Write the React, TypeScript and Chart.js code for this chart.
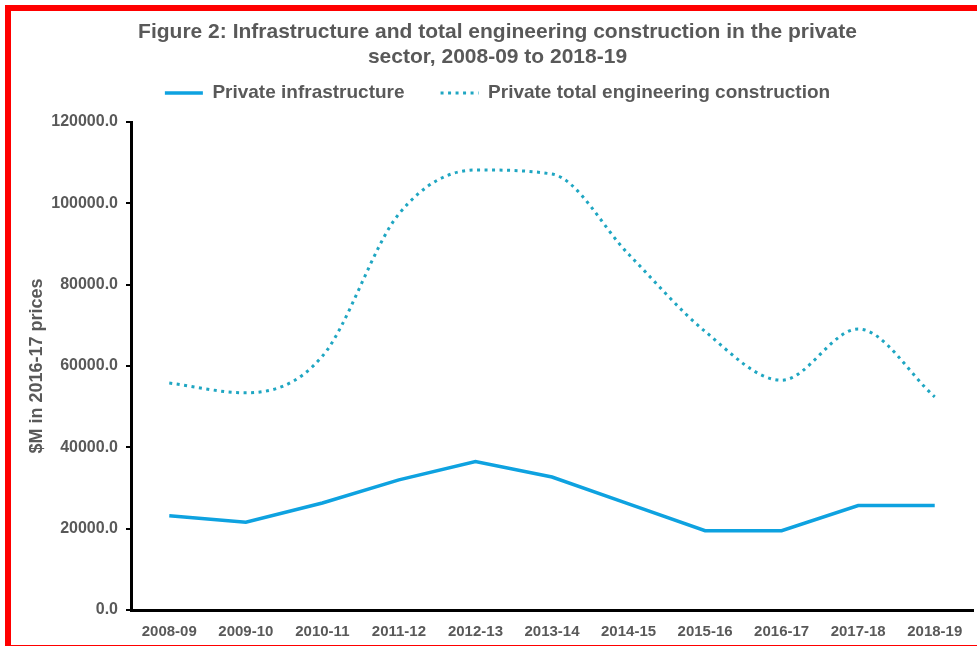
import React, { useEffect, useRef } from "react";
import { Chart, registerables } from "chart.js";

Chart.register(...registerables);

const categories = ["2008-09", "2009-10", "2010-11", "2011-12", "2012-13", "2013-14", "2014-15", "2015-16", "2016-17", "2017-18", "2018-19"];
const privateInfrastructure = [23200, 21600, 26300, 32000, 36500, 32700, 26100, 19500, 19500, 25700, 25700];
const privateTotalEngineering = [55800, 53400, 62400, 97400, 108200, 107200, 87500, 68500, 56500, 69100, 52400];
const titleLines = ["Figure 2: Infrastructure and total engineering construction in the private", "sector, 2008-09 to 2018-19"];
const yAxisTitle = "$M in 2016-17 prices";

const W = 977;
const H = 646;
const FONT = "'Liberation Sans', Arial, sans-serif";
const TEXT = "#595959";

const legendSpacer = {
  id: "legendSpacer",
  beforeInit(chart: any) {
    const legend = chart.legend;
    if (!legend) return;
    const origFit = legend.fit;
    legend.fit = function () {
      origFit.call(this);
      this.height += 9.5;
    };
  },
};

export default function App() {
  const ref = useRef<HTMLCanvasElement | null>(null);
  useEffect(() => {
    if (!ref.current) return;
    const chart = new Chart(ref.current, {
      type: "line",
      plugins: [legendSpacer],
      data: {
        labels: categories,
        datasets: [
          {
            label: "Private infrastructure",
            data: privateInfrastructure,
            borderColor: "#0EA2E0",
            backgroundColor: "#0EA2E0",
            borderWidth: 3.5,
            pointRadius: 0,
            tension: 0,
            pointStyle: "line",
          },
          {
            label: "Private total engineering construction",
            data: privateTotalEngineering,
            borderColor: "#1FA6C2",
            backgroundColor: "#1FA6C2",
            borderWidth: 3,
            borderDash: [3, 4.5],
            pointRadius: 0,
            cubicInterpolationMode: "monotone",
            pointStyle: "line",
          },
        ],
      },
      options: {
        responsive: false,
        animation: false,
        layout: { padding: { left: 22, right: 4, top: 0, bottom: 6 } },
        plugins: {
          tooltip: { enabled: false },
          title: {
            display: true,
            text: titleLines,
            color: TEXT,
            font: { family: FONT, size: 21, weight: "bold", lineHeight: "25px" },
            padding: { top: 20, bottom: -22.5 },
          },
          legend: {
            display: true,
            labels: {
              usePointStyle: true,
              pointStyleWidth: 38,
              padding: 36,
              color: TEXT,
              font: { family: FONT, size: 19, weight: "bold" },
              generateLabels: (c: any) => {
                const items = Chart.defaults.plugins.legend.labels.generateLabels(c);
                return items.map((it: any, i: number) => {
                  const ds: any = c.data.datasets[i];
                  return {
                    ...it,
                    lineDash: ds.borderDash || [],
                    lineWidth: ds.borderWidth,
                    strokeStyle: ds.borderColor,
                    fontColor: TEXT,
                  };
                });
              },
            },
          },
        },
        scales: {
          x: {
            type: "category",
            offset: true,
            grid: { display: false, drawTicks: false },
            border: { display: true, color: "#000", width: 3 },
            ticks: {
              color: TEXT,
              padding: 13,
              maxRotation: 0,
              autoSkip: false,
              font: { family: FONT, size: 15, weight: "bold" },
            },
            afterFit: (s: any) => {
              s.height = 30;
            },
          },
          y: {
            min: 0,
            max: 120000,
            ticks: {
              stepSize: 20000,
              color: TEXT,
              padding: 8,
              font: { family: FONT, size: 16, weight: "bold" },
              callback: (v: any) => Number(v).toFixed(1),
            },
            grid: { drawOnChartArea: false, drawTicks: true, tickLength: 5, color: "#000", lineWidth: 2 },
            border: { display: true, color: "#000", width: 3 },
            title: {
              display: true,
              text: yAxisTitle,
              color: TEXT,
              font: { family: FONT, size: 18, weight: "bold" },
            },
            afterFit: (s: any) => {
              s.width = 109;
            },
          },
        },
      },
    });
    return () => chart.destroy();
  }, []);

  return (
    <div style={{ position: "fixed", left: 0, top: 0, width: W, height: H, background: "#fff", overflow: "hidden" }}>
      <canvas ref={ref} width={W} height={H} style={{ position: "absolute", left: 0, top: 0, width: W, height: H }} />
      <div
        style={{
          position: "absolute",
          left: 5,
          top: 5,
          width: W,
          height: 634,
          borderLeft: "6px solid #FF0000",
          borderTop: "6px solid #FF0000",
          borderBottom: "2px solid #FF0000",
          pointerEvents: "none",
        }}
      />
    </div>
  );
}
